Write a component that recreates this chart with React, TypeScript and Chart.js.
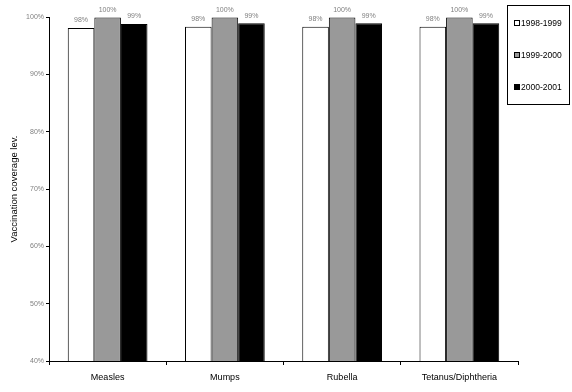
import React, { useEffect, useRef } from "react";
import { Chart, registerables } from "chart.js";

Chart.register(...registerables);

const categories = ["Measles", "Mumps", "Rubella", "Tetanus/Diphtheria"];
const seriesLabels = ["1998-1999", "1999-2000", "2000-2001"];
const values1998 = [98.1, 98.3, 98.3, 98.3];
const values1999 = [99.9, 99.9, 99.9, 99.9];
const values2000 = [98.8, 98.9, 98.9, 98.9];
const yTicks = [40, 50, 60, 70, 80, 90, 100];
const colors = ["#ffffff", "#999999", "#000000"];

const FONT = "'Liberation Sans', Arial, sans-serif";

const dataLabelPlugin = {
  id: "dataLabels",
  afterDatasetsDraw(chart: any) {
    const ctx = chart.ctx;
    ctx.save();
    ctx.font = `7px ${FONT}`;
    ctx.fillStyle = "#808080";
    ctx.textAlign = "center";
    ctx.textBaseline = "bottom";
    chart.data.datasets.forEach((ds: any, di: number) => {
      const meta = chart.getDatasetMeta(di);
      meta.data.forEach((bar: any, i: number) => {
        ctx.fillText(Math.round(ds.data[i]) + "%", bar.x, bar.y - 4);
      });
    });
    ctx.restore();
  },
};

const legendPlugin = {
  id: "customLegend",
  afterDraw(chart: any) {
    const ctx = chart.ctx;
    ctx.save();
    const bx = 507.5, by = 5.5, bw = 62, bh = 99;
    ctx.fillStyle = "#ffffff";
    ctx.fillRect(bx, by, bw, bh);
    ctx.strokeStyle = "#000000";
    ctx.lineWidth = 1;
    ctx.strokeRect(bx, by, bw, bh);
    ctx.font = `8.5px ${FONT}`;
    ctx.textBaseline = "middle";
    ctx.textAlign = "left";
    chart.data.datasets.forEach((ds: any, i: number) => {
      const cy = 24 + i * 32;
      ctx.fillStyle = ds.backgroundColor;
      ctx.fillRect(514.5, cy - 3.5, 5, 5);
      ctx.strokeStyle = "#000";
      ctx.strokeRect(514.5, cy - 3.5, 5, 5);
      ctx.fillStyle = "#000";
      ctx.fillText(ds.label, 521, cy);
    });
    ctx.restore();
  },
};

export default function App() {
  const ref = useRef<HTMLCanvasElement>(null);
  useEffect(() => {
    document.body.style.margin = "0";
    const series = [values1998, values1999, values2000];
    const chart = new Chart(ref.current!, {
      type: "bar",
      data: {
        labels: categories,
        datasets: series.map((d, i) => ({
          label: seriesLabels[i],
          data: d,
          backgroundColor: colors[i],
          borderColor: "#000000",
          borderWidth: 1,
          borderSkipped: "bottom",
          categoryPercentage: 0.68,
          barPercentage: 1,
        })),
      },
      options: {
        animation: false,
        responsive: false,
        layout: { padding: { top: 17, right: 54, left: 0, bottom: 0 } },
        plugins: { legend: { display: false }, tooltip: { enabled: false } },
        scales: {
          x: {
            grid: { drawOnChartArea: false, tickLength: 4, color: "#000", offset: true },
            border: { color: "#000" },
            ticks: { font: { family: FONT, size: 9 }, color: "#000", padding: 7 },
            afterFit: (s: any) => { s.height = 31; },
          },
          y: {
            min: 40,
            max: 100,
            afterBuildTicks: (s: any) => { s.ticks = yTicks.map((v) => ({ value: v })); },
            grid: { drawOnChartArea: false, tickLength: 3, color: "#000" },
            border: { color: "#000" },
            ticks: {
              font: { family: FONT, size: 7 },
              color: "#808080",
              padding: 2,
              callback: (v: any) => v + "%",
            },
            title: {
              display: true,
              text: "Vaccination coverage lev.",
              font: { family: FONT, size: 9.5 },
              color: "#000",
              padding: { top: 9, bottom: 0 },
            },
            afterFit: (s: any) => { s.width = 49; },
          },
        },
      },
      plugins: [dataLabelPlugin, legendPlugin],
    });
    return () => chart.destroy();
  }, []);
  return <canvas ref={ref} width={572} height={392} style={{ display: "block" }} />;
}
